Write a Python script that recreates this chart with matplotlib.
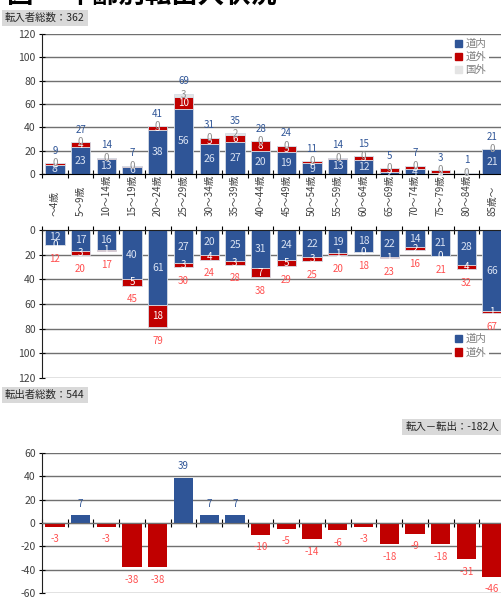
import numpy as np
import matplotlib
matplotlib.use("Agg")
import matplotlib.pyplot as plt
from matplotlib.patches import Patch
from matplotlib import transforms

plt.rcParams["font.family"] = ["Noto Sans CJK JP", "DejaVu Sans"]
plt.rcParams["axes.unicode_minus"] = False

AGES = ["～4歳", "5～9歳", "10～14歳", "15～19歳", "20～24歳", "25～29歳",
        "30～34歳", "35～39歳", "40～44歳", "45～49歳", "50～54歳", "55～59歳",
        "60～64歳", "65～69歳", "70～74歳", "75～79歳", "80～84歳", "85歳～"]

# 転入
IN_DOMESTIC = [8, 23, 13, 6, 38, 56, 26, 27, 20, 19, 9, 13, 12, 2, 4, 1, 1, 21]
IN_OTHER_PREF = [1, 4, 1, 1, 3, 10, 5, 6, 8, 5, 2, 1, 3, 3, 3, 2, 0, 0]
IN_ABROAD = [0, 0, 0, 0, 0, 3, 0, 2, 0, 0, 0, 0, 0, 0, 0, 0, 0, 0]

# 転出
OUT_DOMESTIC = [12, 17, 16, 40, 61, 27, 20, 25, 31, 24, 22, 19, 18, 22, 14, 21, 28, 66]
OUT_OTHER_PREF = [0, 3, 1, 5, 18, 3, 4, 3, 7, 5, 3, 1, 0, 1, 2, 0, 4, 1]

BLUE = "#2F5597"
RED = "#C00000"
LGRAY = "#E4E4E4"
TXT = "#404040"
W, H = 502, 599


def fig_rect(left, top, right, bottom):
    return [left / W, 1 - bottom / H, (right - left) / W, (bottom - top) / H]


def style_axis(ax, ymin, ymax, step):
    ax.set_xlim(-0.5, len(AGES) - 0.5)
    ax.set_yticks(np.arange(ymin, ymax + 1, step))
    ax.set_xticks(np.arange(-0.5, len(AGES), 1))
    ax.set_xticklabels([])
    ax.yaxis.grid(True, color="#707070", lw=1.0)
    ax.set_axisbelow(True)
    ax.spines["right"].set_visible(False)
    ax.tick_params(axis="y", direction="inout", length=5, labelsize=7.5,
                   labelcolor=TXT, pad=2)
    ax.tick_params(axis="x", direction="inout", length=6)
    ax.spines["left"].set_color("#202020")


def add_legend(ax, handles, labels, loc, anchor):
    ax.legend(handles, labels, loc=loc, bbox_to_anchor=anchor,
              frameon=True, facecolor="white", edgecolor="none", framealpha=1,
              fontsize=7.5, labelcolor="#7F7F7F", handlelength=0.7, handleheight=0.7,
              handletextpad=0.3, borderpad=0.25, labelspacing=0.3, borderaxespad=0)


in_dom = np.array(IN_DOMESTIC)
in_oth = np.array(IN_OTHER_PREF)
in_abr = np.array(IN_ABROAD)
out_dom = np.array(OUT_DOMESTIC)
out_oth = np.array(OUT_OTHER_PREF)
in_tot = in_dom + in_oth + in_abr
out_tot = out_dom + out_oth
net = in_tot - out_tot
x = np.arange(len(AGES))
bw = 0.75

fig = plt.figure(figsize=(W / 100, H / 100), dpi=100)

fig.text(7 / W, 1 + 4 / H, "図　 年齢別転出入状況", fontsize=19, fontweight="bold",
         va="center", ha="left")

# --- 転入 ---
ax1 = fig.add_axes(fig_rect(42, 34, 505, 174))
style_axis(ax1, 0, 120, 20)
ax1.set_ylim(0, 120)
ax1.spines["top"].set_visible(False)
ax1.bar(x, in_dom, bw, color=BLUE, edgecolor="#D6DCE5", lw=0.6)
ax1.bar(x, in_oth, bw, bottom=in_dom, color=RED, edgecolor="#D6DCE5", lw=0.6)
ax1.bar(x, in_abr, bw, bottom=in_dom + in_oth, color=LGRAY, edgecolor="#D6DCE5", lw=0.6)
for i in x:
    ax1.text(i, in_dom[i] / 2, str(in_dom[i]), ha="center", va="center",
             fontsize=7.5, color="#DAE3F3")
    ax1.text(i, in_dom[i] + in_oth[i] / 2, str(in_oth[i]), ha="center", va="center",
             fontsize=7, color="white")
    ax1.text(i, in_dom[i] + in_oth[i] + in_abr[i] / 2, str(in_abr[i]), ha="center",
             va="center", fontsize=7, color="#8C8C8C")
    ax1.annotate(str(in_tot[i]), (i, in_tot[i]), xytext=(0, 9), textcoords="offset points",
                 ha="center", va="center", fontsize=7, color=BLUE)
add_legend(ax1, [Patch(color=BLUE), Patch(color=RED), Patch(color=LGRAY)],
           ["道内", "道外", "国外"], "upper right", (0.965, 0.985))

fig.text(5 / W, 1 - 18 / H, "転入者総数：362", fontsize=7.5, color="#262626",
         va="center", ha="left",
         bbox=dict(facecolor="#D9D9D9", edgecolor="none", boxstyle="square,pad=0.3"))

# age labels between panels
trans = transforms.blended_transform_factory(ax1.transData, fig.transFigure)
for i, lab in enumerate(AGES):
    fig.text(i, 1 - 216 / H, lab, rotation=90, ha="center", va="bottom",
             fontsize=7, color=TXT, transform=trans)

# --- 転出 ---
ax2 = fig.add_axes(fig_rect(42, 230, 505, 378))
style_axis(ax2, 0, 120, 20)
ax2.set_ylim(120, 0)
ax2.spines["bottom"].set_visible(False)
ax2.spines["top"].set_color("#202020")
ax2.xaxis.set_ticks_position("top")
ax2.bar(x, out_dom, bw, color=BLUE, edgecolor="#D6DCE5", lw=0.6)
ax2.bar(x, out_oth, bw, bottom=out_dom, color=RED, edgecolor="#D6DCE5", lw=0.6)
for i in x:
    ax2.text(i, out_dom[i] / 2, str(out_dom[i]), ha="center", va="center",
             fontsize=7.5, color="#DAE3F3")
    ax2.text(i, out_dom[i] + out_oth[i] / 2, str(out_oth[i]), ha="center", va="center",
             fontsize=7, color="white")
    ax2.annotate(str(out_tot[i]), (i, out_tot[i]), xytext=(0, -10),
                 textcoords="offset points", ha="center", va="center",
                 fontsize=7, color="#FF5050")
add_legend(ax2, [Patch(color=BLUE), Patch(color=RED)], ["道内", "道外"],
           "lower right", (0.965, 0.12))

fig.text(5 / W, 1 - 395 / H, "転出者総数：544", fontsize=7.5, color="#262626",
         va="center", ha="left",
         bbox=dict(facecolor="#D9D9D9", edgecolor="none", boxstyle="square,pad=0.3"))
fig.text(499 / W, 1 - 427 / H, f"転入－転出：{net.sum()}人", fontsize=7.5,
         color="#262626", va="center", ha="right",
         bbox=dict(facecolor="#D9D9D9", edgecolor="none", boxstyle="square,pad=0.3"))

# --- 転入－転出 ---
ax3 = fig.add_axes(fig_rect(42, 453, 505, 593))
style_axis(ax3, -60, 60, 20)
ax3.set_ylim(-60, 60)
ax3.spines["top"].set_visible(False)
ax3.spines["bottom"].set_position(("data", 0))
ax3.spines["bottom"].set_color("#707070")
colors = [BLUE if v > 0 else RED for v in net]
ax3.bar(x, net, bw, color=colors)
for i in x:
    if net[i] > 0:
        ax3.annotate(str(net[i]), (i, net[i]), xytext=(0, 8), textcoords="offset points",
                     ha="center", va="center", fontsize=7, color=BLUE)
    else:
        ax3.annotate(str(net[i]), (i, net[i]), xytext=(0, -9), textcoords="offset points",
                     ha="center", va="center", fontsize=7, color="#FF5050")

fig.savefig("out.png", dpi=100)
